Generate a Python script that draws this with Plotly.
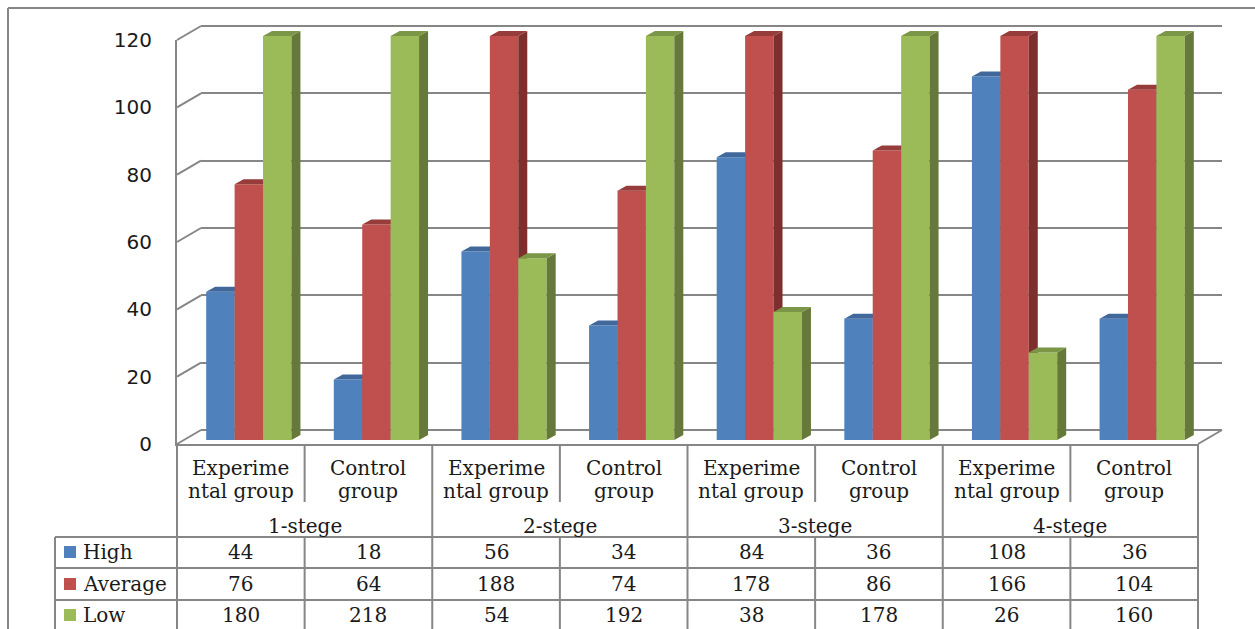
import plotly.graph_objects as go

stages = ["1-stege", "2-stege", "3-stege", "4-stege"]
groups = ["Experime<br>ntal group", "Control<br>group"] * 4
series_names = ["High", "Average", "Low"]
high = [44, 18, 56, 34, 84, 36, 108, 36]
average = [76, 64, 188, 74, 178, 86, 166, 104]
low = [180, 218, 54, 192, 38, 178, 26, 160]
y_ticks = [0, 20, 40, 60, 80, 100, 120]

front = ["#4F81BD", "#C0504D", "#9BBB59"]
side = ["#3A5F8C", "#7D2F2D", "#66783A"]
top = ["#41689A", "#963D3B", "#7B9647"]
GRID = "#868686"
TXT = "#1a1a1a"

W, H = 1255, 629
def px(x): return x / W
def py(y): return 1 - y / H

L, R = 177, 1198            # front plane of the category axis
Y120, Y0 = 40, 444          # front plane of the value axis
BX, BY = 24, 14             # wall depth
PERIOD = (R - L) / 8
PXU = (Y0 - Y120) / 120
DX, DY = 9 / PERIOD, 5 / PXU   # bar depth in data units
W_BAR = 0.668 / 3
YMAX = 120
PAD = 2                     # back-wall axis padding so edge gridlines are drawn

fig = go.Figure()

# empty traces to register front and back-wall axes
fig.add_trace(go.Scatter(x=[], y=[], xaxis="x", yaxis="y", showlegend=False))
fig.add_trace(go.Scatter(x=[], y=[], xaxis="x2", yaxis="y2", showlegend=False))

layout_axes = dict(
    xaxis=dict(domain=[px(L), px(R)], range=[-0.5, 7.5], showgrid=False, zeroline=False,
               showline=True, linecolor=GRID, linewidth=2, showticklabels=False, ticks="",
               anchor="y"),
    yaxis=dict(domain=[py(Y0), py(Y120)], range=[0, 120], tickvals=y_ticks, showgrid=False,
               zeroline=False, showline=True, linecolor=GRID, linewidth=2, ticks="",
               ticklabelstandoff=19, tickfont=dict(family="DejaVu Sans", size=20, color=TXT),
               anchor="x"),
    xaxis2=dict(domain=[px(L + BX), px(R + BX)], range=[-0.5, 7.5], visible=False, anchor="y2"),
    yaxis2=dict(domain=[py(Y0 - BY + PAD * PXU), py(Y120 - BY - PAD * PXU)], range=[-PAD, 120 + PAD], tickvals=y_ticks,
                showgrid=True, gridcolor=GRID, gridwidth=2, zeroline=False, showticklabels=False,
                ticks="", showline=False, anchor="x2"),
)

bar_y0 = Y0 - 4
bar_x0 = L + 8
XEXT, YEXT = 0.12, 4.0
for s, vals in enumerate([high, average, low]):
    xa, ya = f"x{s + 3}", f"y{s + 3}"
    xs = [i + (s - 1) * W_BAR for i in range(len(vals))]
    hs = [min(v, YMAX) for v in vals]
    sx, sy, tx, ty = [], [], [], []
    for x, v in zip(xs, hs):
        r = x + W_BAR / 2
        l = x - W_BAR / 2
        sx += [r, r + DX, r + DX, r, r, None]
        sy += [0, DY, v + DY, v, 0, None]
        tx += [l, r, r + DX, l + DX, l, None]
        ty += [v, v, v + DY, v + DY, v, None]
    fig.add_trace(go.Bar(x=xs, y=hs, width=W_BAR, name=series_names[s], marker=dict(color=front[s], line=dict(width=0)),
                         xaxis=xa, yaxis=ya, showlegend=False))
    fig.add_trace(go.Scatter(x=sx, y=sy, mode="lines", fill="toself", fillcolor=side[s],
                             line=dict(width=0), xaxis=xa, yaxis=ya, showlegend=False, hoverinfo="skip"))
    fig.add_trace(go.Scatter(x=tx, y=ty, mode="lines", fill="toself", fillcolor=top[s],
                             line=dict(width=0), xaxis=xa, yaxis=ya, showlegend=False, hoverinfo="skip"))
    layout_axes[f"xaxis{s + 3}"] = dict(domain=[px(bar_x0), px(R + 8 + XEXT * PERIOD)], range=[-0.5, 7.5 + XEXT],
                                        visible=False, anchor=f"y{s + 3}")
    layout_axes[f"yaxis{s + 3}"] = dict(domain=[py(bar_y0), py(bar_y0 - (120 + YEXT) * PXU)], range=[0, 120 + YEXT],
                                        visible=False, anchor=f"x{s + 3}")

shapes = []
def line(x0, y0, x1, y1, width=2):
    shapes.append(dict(type="line", xref="paper", yref="paper", x0=px(x0), y0=py(y0), x1=px(x1), y1=py(y1),
                       line=dict(color=GRID, width=width), layer="below"))

# chart frame (runs off the right and bottom of the picture)
line(8, 8, W + 2, 8); line(8, 8, 8, H + 2)
# side-wall diagonals
for t in y_ticks:
    y = Y0 - t * PXU
    line(L, y, L + BX, y - BY)
line(R, Y0, R + BX, Y0 - BY)
# table rules
for y in (537, 568, 600):
    line(55, y, R, y)
line(55, 537, 55, H + 2)
line(R, Y0, R, H + 2)
line(L, Y0, L, H + 2)
for i in range(1, 8):
    x = L + i * PERIOD
    if i % 2 == 0:
        line(x, Y0, x, H + 2)
    else:
        line(x, Y0, x, 502)
        line(x, 537, x, H + 2)

anns = []
def text(x, y, s, anchor="center", size=20):
    anns.append(dict(xref="paper", yref="paper", x=px(x), y=py(y), text=s, showarrow=False, xanchor=anchor,
                     yanchor="middle", font=dict(family="DejaVu Serif", size=size, color=TXT)))

for i, g in enumerate(groups):
    cx = L + (i + 0.5) * PERIOD
    a, b = g.split("<br>")
    text(cx, 468, a); text(cx, 491, b)
for i, st in enumerate(stages):
    text(L + (2 * i + 1) * PERIOD, 526, st)

row_y = [552, 584, 615]
for s, vals in enumerate([high, average, low]):
    text(81, row_y[s], series_names[s], anchor="left")
    shapes.append(dict(type="rect", xref="paper", yref="paper", x0=px(64), x1=px(76), y0=py(row_y[s] - 6), y1=py(row_y[s] + 6),
                       fillcolor=front[s], line=dict(width=0)))
    for i, v in enumerate(vals):
        text(L + (i + 0.5) * PERIOD, row_y[s], str(v))

fig.update_layout(width=W, height=H, margin=dict(l=0, r=0, t=0, b=0, autoexpand=False), paper_bgcolor="white", plot_bgcolor="rgba(0,0,0,0)",
                  barmode="overlay", shapes=shapes, annotations=anns, showlegend=False, **layout_axes)
fig.write_html("out.html", config=dict(displayModeBar=False),
               post_script="document.body.style.margin='0';document.documentElement.style.overflow='hidden';")
